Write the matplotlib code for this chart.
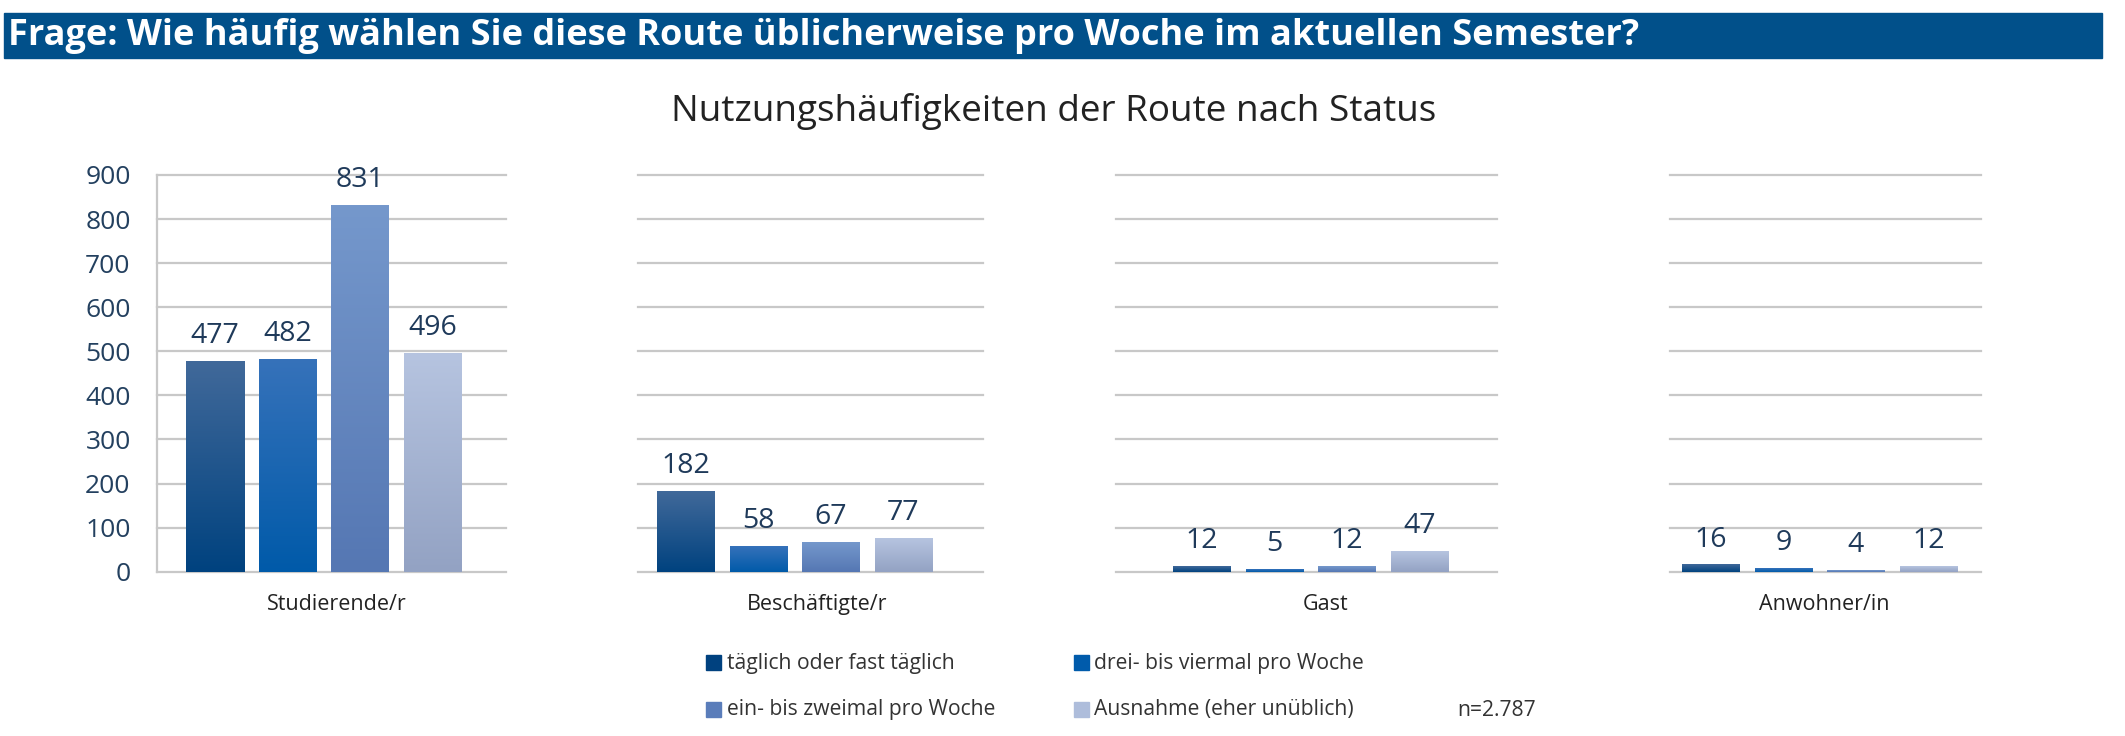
import numpy as np
import matplotlib.pyplot as plt
from matplotlib.colors import LinearSegmentedColormap
from matplotlib.patches import Rectangle

plt.rcParams['font.family'] = ['Open Sans', 'DejaVu Sans']

groups = ['Studierende/r', 'Beschäftigte/r', 'Gast', 'Anwohner/in']
freq_labels = ['täglich oder fast täglich', 'drei- bis viermal pro Woche',
               'ein- bis zweimal pro Woche', 'Ausnahme (eher unüblich)']
studierende = [477, 482, 831, 496]
beschaeftigte = [182, 58, 67, 77]
gast = [12, 5, 12, 47]
anwohner = [16, 9, 4, 12]
values = [studierende, beschaeftigte, gast, anwohner]
yticks = [0, 100, 200, 300, 400, 500, 600, 700, 800, 900]
n_text = 'n=2.787'

# gradient colours per frequency (top, bottom) and flat legend colours
top_cols = ['#41699a', '#3672ba', '#7598cc', '#b6c4e0']
bot_cols = ['#00427f', '#005aa9', '#5577b3', '#93a2c3']
legend_cols = ['#00417f', '#005bab', '#5a7dba', '#aebddb']

W, H = 2125, 736
fig = plt.figure(figsize=(W / 100, H / 100), dpi=100)


def box(x0, y0, x1, y1):
    # pixel box (top-left origin) -> figure fraction rect
    return [x0 / W, 1 - y1 / H, (x1 - x0) / W, (y1 - y0) / H]


# header bar
fig.patches.append(Rectangle((4 / W, 1 - 58 / H), 2098 / W, 45 / H,
                             transform=fig.transFigure, color='#01508a'))
fig.text(8 / W, 1 - 36 / H,
         'Frage: Wie häufig wählen Sie diese Route üblicherweise pro Woche im aktuellen Semester?',
         color='white', fontsize=26, fontweight='bold', va='center')
fig.text(1054 / W, 1 - 111 / H, 'Nutzungshäufigkeiten der Route nach Status',
         fontsize=26.6, ha='center', va='center', color='#222222')

# (left px, right px, first bar centre px)
panels = [(157, 506, 215), (638, 983, 686), (1116, 1497, 1202), (1670, 1981, 1711)]
label_x = [337, 817, 1326, 1824]
y_top, y_bot = 175, 571.7
step = 72.5
grad = np.linspace(0, 1, 256).reshape(-1, 1)

for i, (vals, (L, R, c0)) in enumerate(zip(values, panels)):
    ax = fig.add_axes(box(L, y_top, R, y_bot))
    x = np.arange(len(vals))
    bars = ax.bar(x, vals, width=58 / step, color='none', zorder=2)
    for b, v, ct, cb in zip(bars, vals, top_cols, bot_cols):
        cmap = LinearSegmentedColormap.from_list('g', [cb, ct])
        x0 = b.get_x()
        ax.imshow(grad, cmap=cmap, origin='lower', aspect='auto', zorder=2,
                  extent=(x0, x0 + b.get_width(), 0, v))
        ax.annotate(str(v), (x0 + b.get_width() / 2, v), xytext=(0, 13),
                    textcoords='offset points', ha='center', va='baseline',
                    fontsize=20.5, color='#1f3a5a')
    ax.set_xlim((L - c0) / step, (R - c0) / step)
    ax.set_ylim(0, 900)
    ax.set_yticks(yticks)
    ax.set_xticks([])
    ax.yaxis.grid(True, color='#c8c8c8', linewidth=1.6, zorder=0)
    ax.set_axisbelow(True)
    for gl in ax.get_ygridlines():
        gl.set_clip_on(False)
    for s in ax.spines.values():
        s.set_visible(False)
    ax.tick_params(axis='y', length=0)
    if i == 0:
        ax.spines['left'].set_visible(True)
        ax.spines['left'].set_color('#c8c8c8')
        ax.spines['left'].set_linewidth(1.6)
        ax.tick_params(axis='y', labelsize=19, labelcolor='#23405f', pad=19)
    else:
        ax.set_yticklabels([])
    fig.text(label_x[i] / W, 1 - 610 / H, groups[i], ha='center', va='baseline',
             fontsize=15.5, color='#222222')

# legend, two columns
sq_x = [706, 1074]
txt_x = [727, 1094]
row_y = [663, 710]
for i, (lab, col) in enumerate(zip(freq_labels, legend_cols)):
    c, r = i % 2, i // 2
    fig.patches.append(Rectangle((sq_x[c] / W, 1 - (row_y[r] + 7) / H), 15 / W, 15 / H,
                                 transform=fig.transFigure, color=col))
    fig.text(txt_x[c] / W, 1 - row_y[r] / H, lab, va='center', fontsize=15.2, color='#333333')
fig.text(1457 / W, 1 - row_y[1] / H, n_text, va='center', fontsize=15.2, color='#333333')

fig.savefig('out.png', dpi=100)
